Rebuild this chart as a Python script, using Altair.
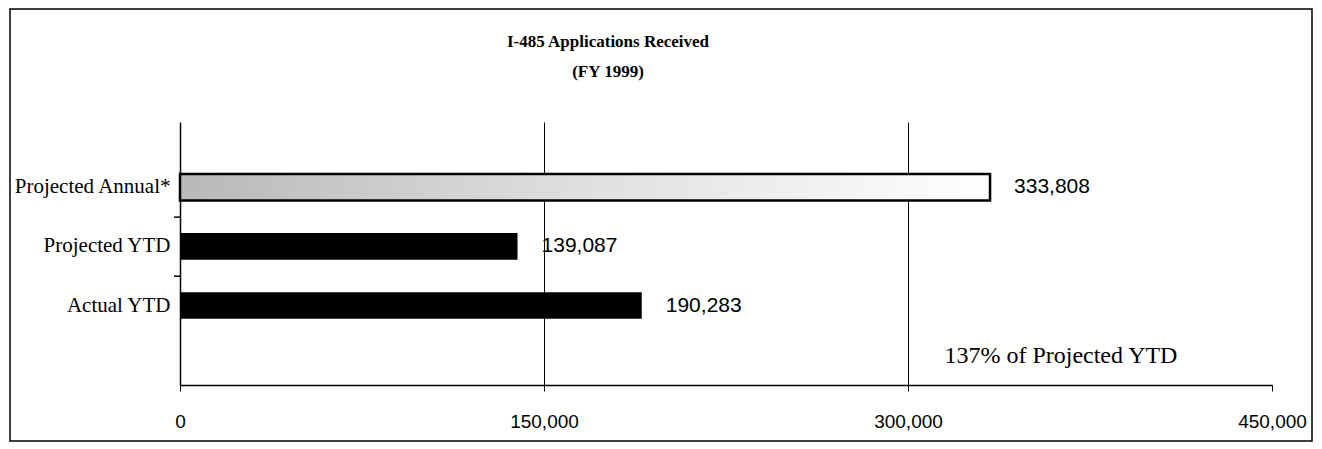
import altair as alt
import pandas as pd

# ---- data ----
categories = ["Projected Annual*", "Projected YTD", "Actual YTD"]
values = [333808, 139087, 190283]
value_labels = ["333,808", "139,087", "190,283"]
x_ticks = [0, 150000, 300000, 450000]
title_lines = ["I-485 Applications Received", "(FY 1999)"]
annotation_text = ["137% of Projected YTD"]
annotation_row = ["Actual YTD"]
annotation_x = [315000]
tick_rows = ["Projected YTD", "Actual YTD"]

df = pd.DataFrame({"cat": categories, "val": values, "label": value_labels})
ann = pd.DataFrame({"cat": annotation_row, "val": annotation_x, "text": annotation_text})
ticks_df = pd.DataFrame({"cat": tick_rows})
one_df = pd.DataFrame({"a": [0]})

SERIF = "Liberation Serif"
SANS = "Liberation Sans"

yscale = alt.Scale(domain=categories, paddingInner=0.55, paddingOuter=1, align=0.44)
xscale = alt.Scale(domain=[0, 450000], nice=False)

y_axis = alt.Axis(title=None, ticks=False, labelFont=SERIF, labelFontSize=21,
                  labelColor="black", labelPadding=10, domainColor="black",
                  domainWidth=1.5)
x_axis = alt.Axis(title=None, values=x_ticks, labelExpr="format(datum.value, ',')",
                  labelFont=SANS, labelFontSize=19, labelColor="black",
                  labelPadding=21, tickSize=6, tickColor="black",
                  domainColor="black", domainWidth=1.5, grid=True,
                  gridColor="black", gridWidth=1,
                  gridOpacity={"condition": {"test": "datum.value == 0 || datum.value == 450000", "value": 0}, "value": 1},
                  labelFlush=False)

x_enc = alt.X("val:Q", scale=xscale, axis=x_axis)
y_enc = alt.Y("cat:N", scale=yscale, sort=categories, axis=y_axis)

base = alt.Chart(df)

gradient = alt.Gradient(
    gradient="linear", x1=0, x2=1, y1=0, y2=0,
    stops=[alt.GradientStop(color="#b8b8b8", offset=0),
           alt.GradientStop(color="#dcdcdc", offset=0.45),
           alt.GradientStop(color="#ffffff", offset=1)],
)

bar_annual = base.transform_filter(alt.datum.cat == categories[0]).mark_bar(
    fill=gradient, stroke="black", strokeWidth=2.5
).encode(x=x_enc, y=y_enc)

bar_black = base.transform_filter(alt.datum.cat != categories[0]).mark_bar(
    color="black"
).encode(x=x_enc, y=y_enc)

labels = base.mark_text(align="left", baseline="middle", dx=24, font=SANS,
                        fontSize=21, color="black").encode(
    x=x_enc, y=y_enc, text="label:N")

annotation = alt.Chart(ann).mark_text(align="left", baseline="middle", dy=50,
                                      font=SERIF, fontSize=24, color="black").encode(
    x=x_enc, y=y_enc, text="text:N")

yticks = alt.Chart(ticks_df).mark_rule(color="black", strokeWidth=1.5, yOffset=-16).encode(
    y=alt.Y("cat:N", sort=categories, bandPosition=0),
    x=alt.value(-6), x2=alt.value(0))

frame = alt.Chart(one_df).mark_rect(filled=False, stroke="black", strokeWidth=1.5).encode(
    x=alt.value(-170), x2=alt.value(1132), y=alt.value(-113), y2=alt.value(319))

title1 = alt.Chart(one_df).mark_text(font=SERIF, fontSize=17, fontWeight="bold",
                                     color="black", align="center", baseline="middle").encode(
    x=alt.value(428), y=alt.value(-80), text=alt.value(title_lines[0]))
title2 = alt.Chart(one_df).mark_text(font=SERIF, fontSize=17, fontWeight="bold",
                                     color="black", align="center", baseline="middle").encode(
    x=alt.value(428), y=alt.value(-50), text=alt.value(title_lines[1]))

chart = alt.layer(bar_annual, bar_black, labels, annotation, yticks, frame,
                  title1, title2).properties(
    width=1092, height=263,
    autosize=alt.AutoSizeParams(type="none"),
    padding={"left": 172, "top": 114, "right": 42, "bottom": 64},
    background="white",
).configure_view(strokeWidth=0)

chart.save("out.html", embed_options={"renderer": "svg", "actions": False})
